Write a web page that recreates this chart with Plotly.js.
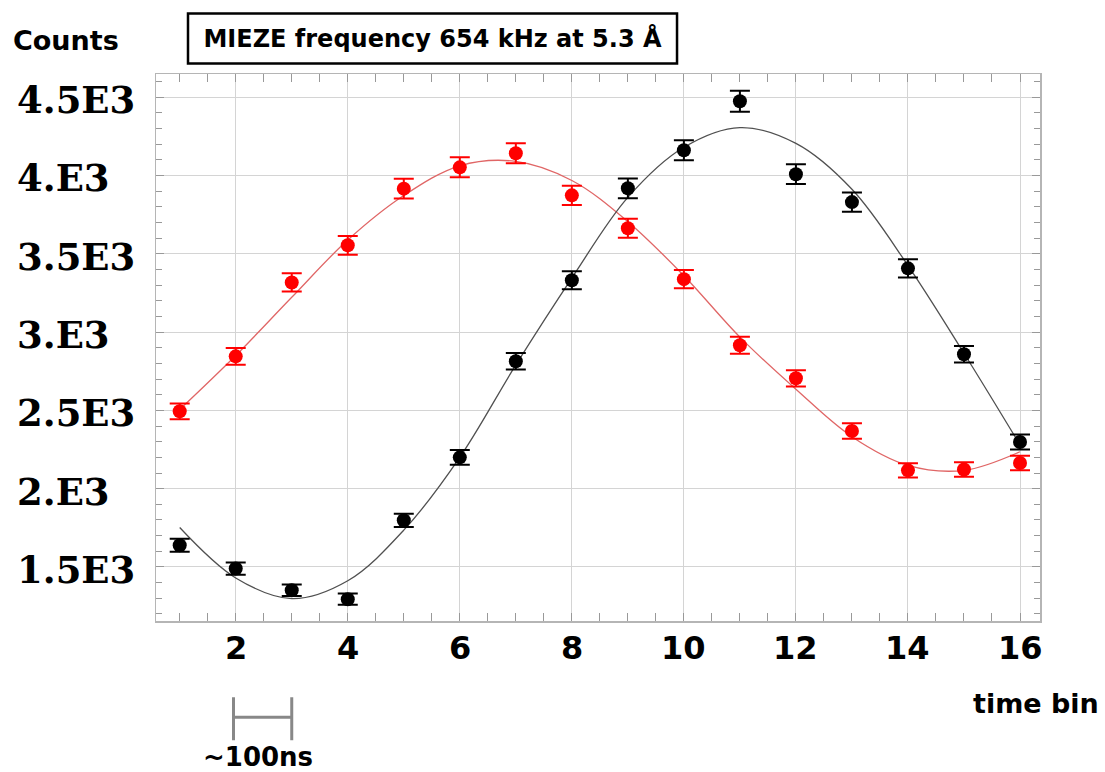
<!DOCTYPE html>
<html>
<head>
<meta charset="utf-8">
<script src="https://cdn.plot.ly/plotly-3.0.1.min.js"></script>
<style>
  html, body { margin: 0; padding: 0; background: #ffffff; }
  #chart { width: 1105px; height: 772px; }
</style>
</head>
<body>
<div id="chart"></div>
<script>
// ---- data ----
const timeBins = [1, 2, 3, 4, 5, 6, 7, 8, 9, 10, 11, 12, 13, 14, 15, 16];

const blackCounts = [1639, 1490, 1351, 1294, 1798, 2200, 2814, 3331, 3918, 4161, 4474, 4008, 3830, 3407, 2858, 2298];
const blackErrors = [41, 39, 37, 36, 42, 47, 53, 58, 63, 64, 67, 63, 62, 58, 53, 48];
const blackFit    = [1752, 1430, 1298, 1412, 1735, 2200, 2790, 3345, 3860, 4180, 4306, 4205, 3912, 3425, 2865, 2280];

const redCounts = [2494, 2845, 3317, 3554, 3916, 4052, 4142, 3873, 3663, 3338, 2916, 2705, 2368, 2117, 2122, 2164];
const redErrors = [50, 53, 58, 60, 63, 64, 64, 62, 61, 58, 54, 52, 49, 46, 46, 47];
const redFit    = [2505, 2850, 3222, 3588, 3872, 4062, 4090, 3968, 3705, 3360, 2968, 2635, 2332, 2149, 2117, 2236];

const xTickVals = [2, 4, 6, 8, 10, 12, 14, 16];
const xTickText = ["2", "4", "6", "8", "10", "12", "14", "16"];
const yTickVals = [1500, 2000, 2500, 3000, 3500, 4000, 4500];
const yTickText = ["1.5E3", "2.E3", "2.5E3", "3.E3", "3.5E3", "4.E3", "4.5E3"];

const titleText = "MIEZE frequency 654 kHz at 5.3 Å";
const yLabelText = "Counts";
const xLabelText = "time bin";
const scaleBarText = "~100ns";
const scaleBarRange = [1.96, 3.0];

// ---- styling ----
const sansBold = "DejaVu Sans, Open Sans, sans-serif";
const serifBold = "DejaVu Serif, Liberation Serif, serif";

const traces = [
  {
    x: timeBins, y: redFit, mode: "lines", type: "scatter",
    line: { color: "#e06666", width: 1.3, shape: "spline", smoothing: 1 },
    hoverinfo: "skip", showlegend: false
  },
  {
    x: timeBins, y: blackFit, mode: "lines", type: "scatter",
    line: { color: "#505050", width: 1.3, shape: "spline", smoothing: 1 },
    hoverinfo: "skip", showlegend: false
  },
  {
    x: timeBins, y: redCounts, mode: "markers", type: "scatter",
    marker: { color: "#ff0000", size: 14, symbol: "circle" },
    error_y: { type: "data", array: redErrors, visible: true, color: "#ff0000", thickness: 2, width: 10 },
    showlegend: false
  },
  {
    x: timeBins, y: blackCounts, mode: "markers", type: "scatter",
    marker: { color: "#000000", size: 14, symbol: "circle" },
    error_y: { type: "data", array: blackErrors, visible: true, color: "#000000", thickness: 2, width: 10 },
    showlegend: false
  }
];

const annotations = yTickVals.map((v, i) => ({
  x: -0.1595, xref: "paper", xanchor: "left",
  y: v, yref: "y", yanchor: "middle", yshift: -3,
  text: yTickText[i], showarrow: false,
  font: { family: serifBold, size: 37, color: "#000", weight: "bold" }
}));

xTickVals.forEach((v, i) => annotations.push({
  x: v, xref: "x", xanchor: "center",
  y: -0.05, yref: "paper", yanchor: "middle",
  text: xTickText[i], showarrow: false,
  font: { family: sansBold, size: 32, color: "#000", weight: "bold" }
}));

annotations.push(
  {
    x: -0.1018, xref: "paper", xanchor: "center",
    y: 1.0612, yref: "paper", yanchor: "middle",
    text: yLabelText, showarrow: false,
    font: { family: sansBold, size: 27, color: "#000", weight: "bold" }
  },
  {
    x: 0.9955, xref: "paper", xanchor: "center",
    y: -0.1504, yref: "paper", yanchor: "middle",
    text: xLabelText, showarrow: false,
    font: { family: sansBold, size: 27, color: "#000", weight: "bold" }
  },
  {
    x: 0.1154, xref: "paper", xanchor: "center",
    y: -0.249, yref: "paper", yanchor: "middle",
    text: scaleBarText, showarrow: false,
    font: { family: sansBold, size: 26, color: "#000", weight: "bold" }
  }
);

const shapes = [
  // title box
  { type: "rect", xref: "paper", yref: "paper", x0: 0.0362, x1: 0.5894, y0: 1.0192, y1: 1.1106,
    line: { color: "#000", width: 2.5 }, fillcolor: "rgba(0,0,0,0)" },
  // scale bar
  { type: "line", xref: "x", yref: "paper", x0: scaleBarRange[0], x1: scaleBarRange[1], y0: -0.176, y1: -0.176,
    line: { color: "#888888", width: 3 } },
  { type: "line", xref: "x", yref: "paper", x0: scaleBarRange[0], x1: scaleBarRange[0], y0: -0.1394, y1: -0.218,
    line: { color: "#888888", width: 3 } },
  { type: "line", xref: "x", yref: "paper", x0: scaleBarRange[1], x1: scaleBarRange[1], y0: -0.1394, y1: -0.218,
    line: { color: "#888888", width: 3 } }
];

const layout = {
  width: 1105, height: 772,
  paper_bgcolor: "#ffffff", plot_bgcolor: "#ffffff",
  margin: { l: 156, r: 65, t: 74, b: 151, pad: 0 },
  title: {
    text: titleText, xref: "paper", x: 0.3128, xanchor: "center",
    yref: "container", y: 0.9495, yanchor: "middle",
    font: { family: sansBold, size: 24, color: "#000", weight: "bold" }
  },
  xaxis: {
    range: [0.577, 16.357], tickmode: "array", tickvals: xTickVals, showticklabels: false,
    ticks: "inside", ticklen: 8, tickcolor: "#999", tickwidth: 1,
    showgrid: true, gridcolor: "#d4d4d4", gridwidth: 1,
    showline: true, linecolor: "#b5b5b5", linewidth: 1.5, mirror: "allticks",
    zeroline: false,
    minor: { dtick: 0.5, tick0: 0, ticks: "inside", ticklen: 8, tickcolor: "#999", showgrid: false }
  },
  yaxis: {
    range: [1155, 4648], tickmode: "array", tickvals: yTickVals, showticklabels: false,
    ticks: "inside", ticklen: 8, tickcolor: "#999", tickwidth: 1,
    showgrid: true, gridcolor: "#d4d4d4", gridwidth: 1,
    showline: true, linecolor: "#b5b5b5", linewidth: 1.5, mirror: "allticks",
    zeroline: false,
    minor: { dtick: 100, tick0: 0, ticks: "inside", ticklen: 6, tickcolor: "#999", showgrid: false }
  },
  annotations: annotations,
  shapes: shapes,
  showlegend: false
};

Plotly.newPlot("chart", traces, layout, { displayModeBar: false, staticPlot: true });
</script>
</body>
</html>
